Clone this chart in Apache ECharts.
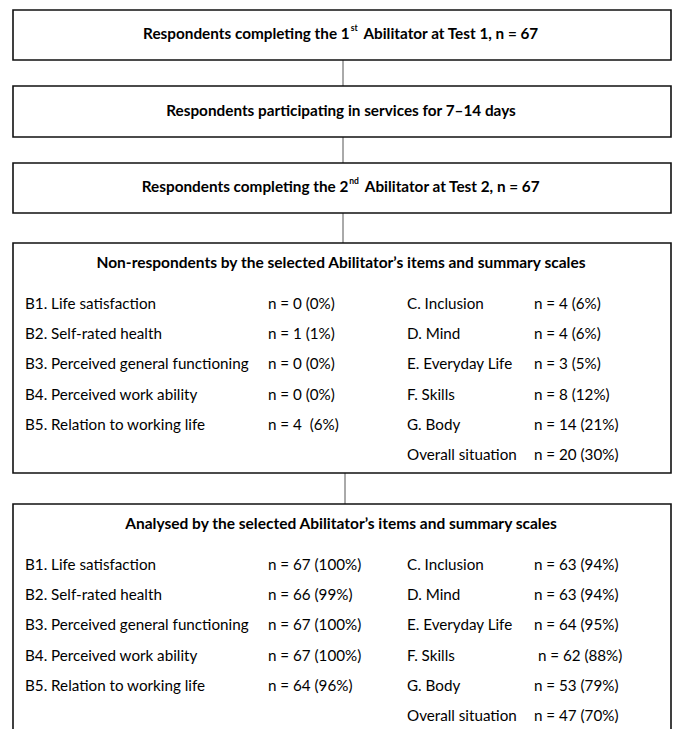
<!DOCTYPE html>
<html>
<head>
<meta charset="utf-8">
<script src="https://cdn.jsdelivr.net/npm/echarts@6/dist/echarts.min.js"></script>
<style>
html,body{margin:0;padding:0;background:#fff;}
#c{width:675px;height:729px;}
</style>
</head>
<body>
<div id="c"></div>
<script>
// ---- data ----
var stepTitles = [
  ['Respondents completing the ', '1', 'st', ' Abilitator at Test 1, n = 67'],
  ['Respondents participating in services for 7\u201314 days', '', '', ''],
  ['Respondents completing the ', '2', 'nd', ' Abilitator at Test 2, n = 67']
];
var nonRespTitle = 'Non-respondents by the selected Abilitator\u2019s items and summary scales';
var analysedTitle = 'Analysed by the selected Abilitator\u2019s items and summary scales';
var itemLabels = ['B1. Life satisfaction', 'B2. Self-rated health', 'B3. Perceived general functioning', 'B4. Perceived work ability', 'B5. Relation to working life'];
var scaleLabels = ['C. Inclusion', 'D. Mind', 'E. Everyday Life', 'F. Skills', 'G. Body', 'Overall situation'];
var nonRespItemValues = ['n = 0 (0%)', 'n = 1 (1%)', 'n = 0 (0%)', 'n = 0 (0%)', 'n = 4  (6%)'];
var nonRespScaleValues = ['n = 4 (6%)', 'n = 4 (6%)', 'n = 3 (5%)', 'n = 8 (12%)', 'n = 14 (21%)', 'n = 20 (30%)'];
var analysedItemValues = ['n = 67 (100%)', 'n = 66 (99%)', 'n = 67 (100%)', 'n = 67 (100%)', 'n = 64 (96%)'];
var analysedScaleValues = ['n = 63 (94%)', 'n = 63 (94%)', 'n = 64 (95%)', ' n = 62 (88%)', 'n = 53 (79%)', 'n = 47 (70%)'];

// ---- layout ----
var FONT = 'Lato, "Open Sans", sans-serif';
var BX = 13, BW = 658;
var stepBoxes = [[10, 50], [86, 51], [163, 50]];
var listBoxes = [[243, 230], [504, 260]];
var connectors = [[343, 60, 86], [343, 137, 163], [343, 213, 243], [345, 473, 504]];
var colX = [25, 268, 407, 534];
var rowStep = 30.2;

var g = [];
function rect(y, h) {
  g.push({type: 'rect', shape: {x: BX, y: y, width: BW, height: h},
    style: {fill: '#fff', stroke: '#111', lineWidth: 1.6}, z: 1});
}
function txt(x, y, s, opt) {
  opt = opt || {};
  g.push({type: 'text', x: x, y: y, z: 3,
    style: {text: s, font: (opt.bold ? 'bold ' : '') + (opt.size || 15.2) + 'px ' + FONT,
      fill: '#000', align: opt.align || 'left', verticalAlign: 'middle'}});
}
connectors.forEach(function (c) {
  g.push({type: 'line', shape: {x1: c[0], y1: c[1], x2: c[0], y2: c[2]},
    style: {stroke: '#555', lineWidth: 1}, z: 0});
});
stepBoxes.forEach(function (b, i) {
  rect(b[0], b[1]);
  var t = stepTitles[i];
  var s = '{n|' + t[0] + t[1] + '}' + (t[2] ? '{s|' + t[2] + '}' : '') + (t[3] ? '{n|' + t[3] + '}' : '');
  g.push({type: 'text', x: BX + BW / 2 - 1, y: b[0] + b[1] / 2 - 2, z: 3,
    style: {text: s, align: 'center', verticalAlign: 'middle', fill: '#000',
      font: 'bold 15.3px ' + FONT,
      rich: {
        n: {font: 'bold 15.3px ' + FONT, fill: '#000', lineHeight: 20},
        s: {font: 'bold 8.5px ' + FONT, fill: '#000', lineHeight: 10, verticalAlign: 'top', padding: [0, 2, 0, 1]}
      }}});
});
function listBox(b, title, lv, rv) {
  rect(b[0], b[1]);
  txt(BX + BW / 2 - 1, b[0] + 19, title, {bold: true, size: 15.5, align: 'center'});
  var y0 = b[0] + 60;
  itemLabels.forEach(function (l, i) { txt(colX[0], y0 + i * rowStep, l); txt(colX[1], y0 + i * rowStep, lv[i]); });
  scaleLabels.forEach(function (l, i) { txt(colX[2], y0 + i * rowStep, l); txt(colX[3], y0 + i * rowStep, rv[i]); });
}
listBox(listBoxes[0], nonRespTitle, nonRespItemValues, nonRespScaleValues);
listBox(listBoxes[1], analysedTitle, analysedItemValues, analysedScaleValues);

var chart = echarts.init(document.getElementById('c'), null, {renderer: 'svg'});
chart.setOption({animation: false, backgroundColor: '#fff', graphic: {elements: g}});
</script>
</body>
</html>
